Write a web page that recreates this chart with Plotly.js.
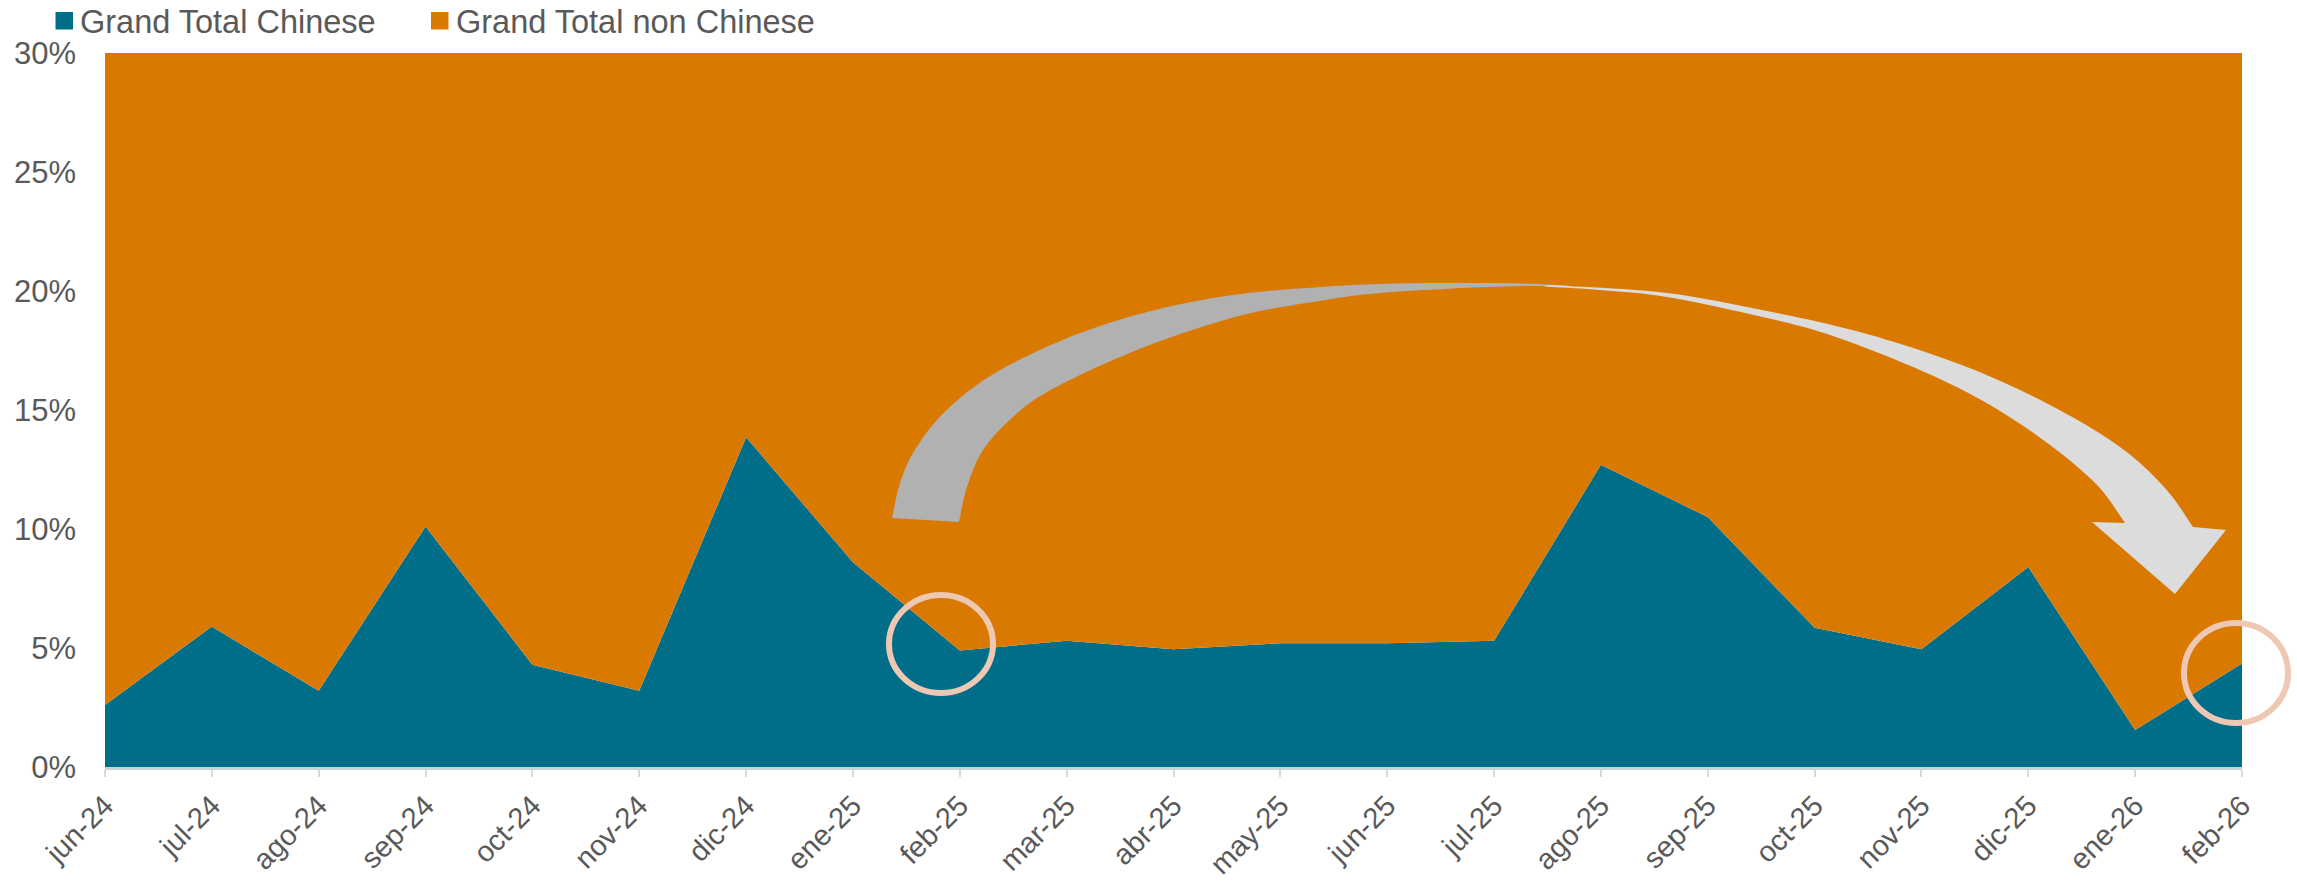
<!DOCTYPE html>
<html><head><meta charset="utf-8">
<script src="https://cdn.plot.ly/plotly-3.0.1.min.js"></script>
<style>html,body{margin:0;padding:0;background:#fff;} #chart{width:2297px;height:881px;}</style>
</head><body><div id="chart"></div>
<script>
// ---- data (percent) ----
const months = ['jun-24','jul-24','ago-24','sep-24','oct-24','nov-24','dic-24','ene-25','feb-25','mar-25','abr-25','may-25','jun-25','jul-25','ago-25','sep-25','oct-25','nov-25','dic-25','ene-26','feb-26'];
const chinese = [2.6, 5.9, 3.2, 10.1, 4.3, 3.2, 13.85, 8.6, 4.9, 5.3, 4.95, 5.2, 5.2, 5.3, 12.7, 10.5, 5.85, 4.95, 8.4, 1.55, 4.35];
const nonChinese = [97.4, 94.1, 96.8, 89.9, 95.7, 96.8, 86.15, 91.4, 95.1, 94.7, 95.05, 94.8, 94.8, 94.7, 87.3, 89.5, 94.15, 95.05, 91.6, 98.45, 95.65];
const seriesNames = ['Grand Total Chinese', 'Grand Total non Chinese'];
const yTickVals = [0, 5, 10, 15, 20, 25, 30];
const yTickText = ['0%', '5%', '10%', '15%', '20%', '25%', '30%'];

// ---- style ----
const TEAL = '#006E89', ORANGE = '#DA7900', TXT = '#595959';
const FONT = 'Arial, "Liberation Sans", sans-serif';
const W = 2297, H = 881, ML = 105, MR = 55, MT = 53, MB = 114;
const PW = W - ML - MR, PH = H - MT - MB;

// pixel -> paper conversion for decorative shapes
function px(x){ return (x - ML) / PW; }
function py(y){ return (H - MB - y) / PH; }
function catmull(pts, steps){
  const out = [];
  for (let i = 0; i < pts.length - 1; i++){
    const p0 = pts[Math.max(i-1,0)], p1 = pts[i], p2 = pts[i+1], p3 = pts[Math.min(i+2, pts.length-1)];
    for (let s = 0; s < steps; s++){
      const t = s/steps, t2 = t*t, t3 = t2*t;
      const x = 0.5*((2*p1[0]) + (-p0[0]+p2[0])*t + (2*p0[0]-5*p1[0]+4*p2[0]-p3[0])*t2 + (-p0[0]+3*p1[0]-3*p2[0]+p3[0])*t3);
      const y = 0.5*((2*p1[1]) + (-p0[1]+p2[1])*t + (2*p0[1]-5*p1[1]+4*p2[1]-p3[1])*t2 + (-p0[1]+3*p1[1]-3*p2[1]+p3[1])*t3);
      out.push([x,y]);
    }
  }
  out.push(pts[pts.length-1]);
  return out;
}
function pathFrom(pts){
  return pts.map((p,i)=> (i?'L':'M') + px(p[0]).toFixed(5) + ',' + py(p[1]).toFixed(5)).join(' ') + ' Z';
}

// dark part of the ribbon arrow
const darkOuter = catmull([[892,518],[900,483],[913,453],[937,420],[970,390],[1013,363],[1080,333],[1147,312],[1213,298],[1280,290],[1380,284],[1500,283],[1567,285.5]], 8);
const darkInner = catmull([[1567,286.5],[1500,286.5],[1380,293],[1313,302],[1247,314],[1180,334],[1113,360],[1047,392],[1013,417],[983,450],[967,487],[959,522]], 8);
const darkPath = pathFrom(darkOuter.concat(darkInner));
// light part with arrow head
const lightTop = catmull([[1545,285.5],[1567,286],[1667,293],[1767,311],[1867,334],[1967,367],[2050,405],[2120,447],[2165,488],[2193,527]], 10);
const head = [[2226,530],[2175,594],[2092,522],[2125,523]];
const lightBottom = catmull([[2125,523],[2097,485],[2050,445],[1990,405],[1920,370],[1833,336],[1767,318],[1667,297],[1600,290],[1545,286.5]], 10);
const lightPath = pathFrom(lightTop.concat(head, lightBottom));

function ellipse(cx, cy, rx, ry){
  return {type:'circle', xref:'paper', yref:'paper', x0:px(cx-rx), x1:px(cx+rx), y0:py(cy+ry), y1:py(cy-ry),
          line:{color:'#EFC8B4', width:6}, fillcolor:'rgba(0,0,0,0)'};
}
function legendSquare(x0, color){
  return {type:'rect', xref:'paper', yref:'paper', x0:px(x0), x1:px(x0+17.5), y0:py(29.5), y1:py(12),
          fillcolor: color, line:{width:0}};
}
function legendText(x, text){
  return {xref:'paper', yref:'paper', x:px(x), y:py(22), xanchor:'left', yanchor:'middle', showarrow:false,
          text: text, font:{family: FONT, size: 32.5, color: TXT}, borderpad:0};
}

const traces = [
  {x: months, y: chinese, name: seriesNames[0], type:'scatter', mode:'none', stackgroup:'one', fill:'tozeroy', fillcolor: TEAL, showlegend:false, hoverinfo:'x+y'},
  {x: months, y: nonChinese, name: seriesNames[1], type:'scatter', mode:'none', stackgroup:'one', fill:'tonexty', fillcolor: ORANGE, showlegend:false, hoverinfo:'x+y'}
];

const layout = {
  width: W, height: H,
  margin: {l: ML, r: MR, t: MT, b: MB, autoexpand: false},
  paper_bgcolor: '#ffffff', plot_bgcolor: '#ffffff',
  font: {family: FONT, size: 31, color: TXT},
  showlegend: false,
  xaxis: {type:'category', range:[0, months.length-1], showgrid:false, zeroline:false,
          showline:true, linecolor:'#CAD4D8', linewidth:3,
          ticks:'outside', ticklen:7, tickwidth:2, tickcolor:'#D9D9D9',
          tickangle:-45, tickfont:{family: FONT, size:29, color:TXT}, automargin:false},
  yaxis: {range:[0, 30], tickvals: yTickVals, ticktext: yTickText, showgrid:false, zeroline:false, showline:false,
          ticks:'', ticklabelstandoff: 28, tickfont:{family: FONT, size:31, color:TXT}, automargin:false},
  annotations: [
    legendText(79, seriesNames[0]),
    legendText(455, seriesNames[1])
  ],
  shapes: [
    legendSquare(55.5, TEAL),
    legendSquare(431, ORANGE),
    {type:'path', xref:'paper', yref:'paper', path: darkPath, fillcolor:'#B1B1B1', line:{width:0}},
    {type:'path', xref:'paper', yref:'paper', path: lightPath, fillcolor:'#DCDCDC', line:{width:0}},
    ellipse(941, 644, 52, 49),
    ellipse(2236, 673, 52, 50)
  ]
};

Plotly.newPlot('chart', traces, layout, {staticPlot:true, displayModeBar:false});
</script>
</body></html>
